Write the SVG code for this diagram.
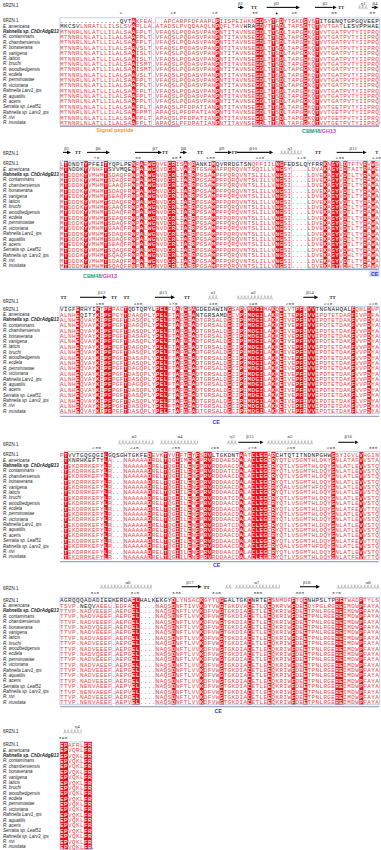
<svg xmlns="http://www.w3.org/2000/svg" width="381" height="850" viewBox="0 0 381 850">
<style>
.k{fill:var(--k,#1c1c1c)}
.ss{font-family:"Liberation Serif","Times New Roman",serif;font-size:5px;fill:#333;text-anchor:middle}
.tt{font-family:"Liberation Serif","Times New Roman",serif;font-size:4.6px;font-weight:bold;fill:#222;text-anchor:middle}
.nu{font-family:"Liberation Mono","Courier New",monospace;font-size:4.3px;fill:#333;text-anchor:middle;letter-spacing:.5px}
.hd{font-family:"Liberation Sans",Arial,sans-serif;font-size:4.5px;fill:#222}
.ar{stroke:#111;stroke-width:1.1;fill:none;marker-end:url(#ah)}
.fr{fill:none;stroke:#8ea3d6;stroke-width:.5}
.col{fill:#e2131b}
.ln{stroke:#8a8fb2;stroke-width:1;fill:none}
.ce{font-family:"Liberation Sans",Arial,sans-serif;font-size:5.2px;font-weight:bold;fill:#2b3cc6;text-anchor:middle}
.lb{font-family:"Liberation Sans",Arial,sans-serif;font-size:5.4px;font-weight:bold;text-anchor:middle}
.hx{fill:url(#hx)}
</style>
<defs>
<marker id="ah" viewBox="0 0 4 4" refX="0" refY="2" markerWidth="4" markerHeight="4" markerUnits="userSpaceOnUse" orient="auto"><path d="M0,0L4,2L0,4z" fill="#111"/></marker>
<pattern id="hx" width="3.3" height="5" patternUnits="userSpaceOnUse"><path d="M0,4.3C1.3,4.3 2.5,0.7 1.7,0.7C0.9,0.7 1.3,4.3 3.3,4.3" fill="none" stroke="#6b6b6b" stroke-width=".45"/></pattern>
<clipPath id="c1"><rect x="131.82" y="-2.8" width="4.04" height="107.6"/><rect x="215.61" y="-2.8" width="4.04" height="107.6"/><rect x="255.51" y="-2.8" width="8.03" height="107.6"/><rect x="271.47" y="-2.8" width="4.04" height="107.6"/><rect x="279.45" y="-2.8" width="4.04" height="107.6"/><rect x="303.39" y="-2.8" width="4.04" height="107.6"/><rect x="315.36" y="-2.8" width="4.04" height="107.6"/></clipPath>
<clipPath id="c2"><rect x="63.99" y="-2.8" width="4.04" height="107.6"/><rect x="83.94" y="-2.8" width="4.04" height="107.6"/><rect x="103.89" y="-2.8" width="4.04" height="107.6"/><rect x="131.82" y="-2.8" width="4.04" height="107.6"/><rect x="139.8" y="-2.8" width="4.04" height="107.6"/><rect x="147.78" y="-2.8" width="8.03" height="107.6"/><rect x="167.73" y="-2.8" width="8.03" height="107.6"/><rect x="183.69" y="-2.8" width="4.04" height="107.6"/><rect x="191.67" y="-2.8" width="4.04" height="107.6"/><rect x="211.62" y="-2.8" width="4.04" height="107.6"/><rect x="275.46" y="-2.8" width="8.03" height="107.6"/><rect x="323.34" y="-2.8" width="4.04" height="107.6"/><rect x="331.32" y="-2.8" width="8.03" height="107.6"/><rect x="343.29" y="-2.8" width="4.04" height="107.6"/><rect x="363.24" y="-2.8" width="4.04" height="107.6"/><rect x="371.22" y="-2.8" width="4.04" height="107.6"/></clipPath>
<clipPath id="c3"><rect x="75.96" y="-2.8" width="4.04" height="107.6"/><rect x="95.91" y="-2.8" width="4.04" height="107.6"/><rect x="103.89" y="-2.8" width="8.03" height="107.6"/><rect x="123.84" y="-2.8" width="4.04" height="107.6"/><rect x="155.76" y="-2.8" width="12.02" height="107.6"/><rect x="175.71" y="-2.8" width="4.04" height="107.6"/><rect x="183.69" y="-2.8" width="4.04" height="107.6"/><rect x="191.67" y="-2.8" width="4.04" height="107.6"/><rect x="227.58" y="-2.8" width="4.04" height="107.6"/><rect x="239.55" y="-2.8" width="4.04" height="107.6"/><rect x="247.53" y="-2.8" width="16.01" height="107.6"/><rect x="271.47" y="-2.8" width="4.04" height="107.6"/><rect x="279.45" y="-2.8" width="4.04" height="107.6"/><rect x="295.41" y="-2.8" width="8.03" height="107.6"/><rect x="307.38" y="-2.8" width="8.03" height="107.6"/><rect x="351.27" y="-2.8" width="4.04" height="107.6"/><rect x="367.23" y="-2.8" width="4.04" height="107.6"/></clipPath>
<clipPath id="c4"><rect x="63.99" y="-2.8" width="4.04" height="107.6"/><rect x="103.89" y="-2.8" width="4.04" height="107.6"/><rect x="147.78" y="-2.8" width="4.04" height="107.6"/><rect x="163.74" y="-2.8" width="4.04" height="107.6"/><rect x="175.71" y="-2.8" width="4.04" height="107.6"/><rect x="187.68" y="-2.8" width="4.04" height="107.6"/><rect x="195.66" y="-2.8" width="4.04" height="107.6"/><rect x="203.64" y="-2.8" width="8.03" height="107.6"/><rect x="239.55" y="-2.8" width="4.04" height="107.6"/><rect x="251.52" y="-2.8" width="16.01" height="107.6"/><rect x="271.47" y="-2.8" width="4.04" height="107.6"/><rect x="331.32" y="-2.8" width="4.04" height="107.6"/><rect x="359.25" y="-2.8" width="4.04" height="107.6"/></clipPath>
<clipPath id="c5"><rect x="131.82" y="-2.8" width="8.03" height="107.6"/><rect x="171.72" y="-2.8" width="4.04" height="107.6"/><rect x="199.65" y="-2.8" width="4.04" height="107.6"/><rect x="219.6" y="-2.8" width="4.04" height="107.6"/><rect x="247.53" y="-2.8" width="4.04" height="107.6"/><rect x="267.48" y="-2.8" width="4.04" height="107.6"/><rect x="291.42" y="-2.8" width="4.04" height="107.6"/><rect x="303.39" y="-2.8" width="4.04" height="107.6"/><rect x="335.31" y="-2.8" width="8.03" height="107.6"/><rect x="359.25" y="-2.8" width="4.04" height="107.6"/></clipPath>
<clipPath id="c6"><rect x="60" y="-2.8" width="8.03" height="107.6"/><rect x="83.94" y="-2.8" width="8.03" height="107.6"/></clipPath>

<g id="nm" font-family="Liberation Sans, Arial, sans-serif" font-size="4.5" font-style="italic" fill="#222">
<text x="3" y="1.7" font-style="normal">6RZN.1</text>
<text x="3" y="7.07">E. americana</text>
<text x="3" y="12.44" font-weight="bold">Rahnella sp. ChDrAdgB13</text>
<text x="3" y="17.81">R. contaminans</text>
<text x="3" y="23.18">R. chambersiensis</text>
<text x="3" y="28.55">R. bonaserana</text>
<text x="3" y="33.92">R. variigena</text>
<text x="3" y="39.29">R. laticis</text>
<text x="3" y="44.66">R. bruchi</text>
<text x="3" y="50.03">R. woodbedgensis</text>
<text x="3" y="55.4">R. ecdela</text>
<text x="3" y="60.77">R. perminowiae</text>
<text x="3" y="66.14">R. victoriana</text>
<text x="3" y="71.51">Rahnella Larv1_ips</text>
<text x="3" y="76.88">R. aquatilis</text>
<text x="3" y="82.25">R. aceris</text>
<text x="3" y="87.62">Serratia sp. Leaf51</text>
<text x="3" y="92.99">Rahnella sp. Larv3_ips</text>
<text x="3" y="98.36">R. rivi</text>
<text x="3" y="103.73">R. inusitata</text>
</g>

<g id="q1" font-family="Liberation Mono, Courier New, monospace" font-size="6" letter-spacing="0.39">
<text x="60" y="2.25"><tspan class="k">...............QVT</tspan>AKFEA...APCARPFDFAAPLPIISPEIHKNGDSYTFDYTSKDGVST<tspan class="k">ITGENQTGPGQVEEP</tspan></text>
<text x="60" y="7.62"><tspan class="k">MKCSV</tspan>LNRATLLILSLSVAPLLA.ATADSLPVQDAAQLNPQFLTAV<tspan class="k">HRA</tspan>GDVTTADLTAPSGTQTVVTGAT<tspan class="k">LESVPPHAE</tspan></text>
<text x="60" y="12.99">MTNNRLNLATLLILALSAAFPLT.VFAQSLPQDASVPANPNTITAVNSEGDLTTSDLTAPGGKQTVVTGATPVTYIIPRQ</text>
<text x="60" y="18.36">MTNNRLNLATLLILALSAAFPLT.VFAQSLPQDASVPANPNTITAVNSEGDLTTSDLTAPGGKQTVVTGATPVTYIIPRQ</text>
<text x="60" y="23.73">MTNNRLNLATLLILALSAAFPLT.VFAQSLPQDASVPANPNTITAVNSEGDLTTSDLTAPGGKQTVVTGATPVTYIIPRQ</text>
<text x="60" y="29.1">MTNNRLNLATLLILALSAAVSLT.VFAQSLPQDASVPANPNTITAVNSEGDLTTSDLTAPGGKQTVVTGATPVTYIIPRQ</text>
<text x="60" y="34.47">MTNNRLNLATLLILALSAAISLT.VFAQSLPQDASVPANPNTITAVNSEGDLTTSDLTAPGGKQTVVTGATPVTYIIPRQ</text>
<text x="60" y="39.84">MTNNRLNLATLLILALSAAISLT.VFAQSLPQDASVPANPNTITAVNSEGDLTTSDLTAPGGKQTVVTGATPVTYIIPRQ</text>
<text x="60" y="45.21">MTNNRLNLATLLILALSAAISMT.VFAQSLPQDASVPANPNTITAVNSEGDLTTSDLTAPGGKQTVVTGATPVTYIIPRQ</text>
<text x="60" y="50.58">MTNNRLNLATLLILALSAAISMT.VFAQSLPQDASVPANPNTITAVNSEGDLTTSDLTAPGGKQTVVTGATPVTYIIPRQ</text>
<text x="60" y="55.95">MTNNRLNLATLLILALSAAVSLT.VFAQSLPQDASVPANPNTITAVNSEGDLTTSDLTAPGGKQTVVTGATPVTYIIPRQ</text>
<text x="60" y="61.32">MTNNRLNLATLLILALSAAFPLT.VFAQSLPQDASVPANPNTITAVNSEGDLTTSDLTAPGGKQTVVTGATPVTYIIPRQ</text>
<text x="60" y="66.69">MTNNRLNLATLLILALSAAFPLT.VFAQSLPQDASVPANPNTITAVNSEGDLTTSDLTAPGGKQTVVTGATPVTYIIPRQ</text>
<text x="60" y="72.06">MTNNRLNLATLLILALSAAFPLT.VFAQSLPQDASVPANPNTITAVNSEGDLTTSDLTAPGGKQTVVTGATPVTYIIPRQ</text>
<text x="60" y="77.43">MTNNRLNLATLLILALSAAFPLT.VFAQSLPQDASVPANPNTITAVNSEGDLTTSDLTAPGGKQTVVTGATPVTYIIPRQ</text>
<text x="60" y="82.8">MTNNRLNLATLLILALSAAFPLT.VFAQSLPQDASVPANPNTITAVNSEGDLTTSDLTAPGGKQTVVTGATPVTYIIPRQ</text>
<text x="60" y="88.17">MTNNRLNLATLLILALSAAFPLT.APAQSLPFDPATIANPNTITAVNSEGDLTTSDLTAPGGKQTVVTGETPVTYIIPRQ</text>
<text x="60" y="93.54">MTNNRLNLATLLILALSAAFPMT.APAQSLPFDPATIANPNTITAVNSEGDLTTSDLTAPGGKQTVVTGETPVTYIIPRQ</text>
<text x="60" y="98.91">MTNNRLNLATLLILALSAAFPLT.APAQSLPFDPATIANPNTITAVNSEGDLTTSDLTAPGGKQTVVTGETPVTYIIPRQ</text>
<text x="60" y="104.28">MTNNRLNLATLLILALSAAFPLT.APAQSLPFDPATIANPNTITAVNSEGDLTTSDLTAPGGKQTVVTGETPVTYIIPRQ</text>
</g>

<g id="q2" font-family="Liberation Mono, Courier New, monospace" font-size="6" letter-spacing="0.39">
<text x="60" y="2.25">LT<tspan class="k">DNDT</tspan>Y<tspan class="k">PFEI</tspan>T<tspan class="k">YQPLPE</tspan>NRAEWGQVECRISAKR<tspan class="k">ANKI</tspan>M<tspan class="k">QVRRDGTSN</tspan>QFFIILNG<tspan class="k">FEDSLQYFRR</tspan>KNGYLDTFTVRVWS</text>
<text x="60" y="7.62">MT<tspan class="k">NDDK</tspan>YVNHFT<tspan class="k">SVVMQE</tspan>NPALWGQVDCRLVAKRTGSAMAFPQRQVNTSQILLVNGSY....LDVAKAGYIDTAITRAWE</text>
<text x="60" y="12.99">MTDDDKYVMHMTSDAQFRNPALWGNVDCRLIAERPGSAMPFPQRQVNTSLILLVNGSI....LDVEKAGYVDTLTYRAWA</text>
<text x="60" y="18.36">MTDDDKYVMHMTSDAQFRNPALWGNVDCRLIAERPGSAMPFPQRQVNTSLILLVNGSI....LDVEKAGYVDTLTYRAWA</text>
<text x="60" y="23.73">MTDDDKYVMHMTGAAQFRNPALWGNVDCRLIAERPGSAMPFPQRQVNTSLILLVNGSI....LDVEKAGYVDTLTYRAWA</text>
<text x="60" y="29.1">MTDDDKYVMHMTSDAQFRNPALWGNVDCRLIAERPGSAMPFPQRQVNTSLILLVNGSI....LDVEKAGYVDTLTYRAWA</text>
<text x="60" y="34.47">MTEDDKYVMHMTSEAQFRNPALWGNVDCRLIAERPGSAMPFPQRQVNTSLILLVNGSI....LDVEKAGYVDTLTYRAWA</text>
<text x="60" y="39.84">MTDDDKYVMHMTSDAQFRNPALWGNVDCRLIAERPGSAMPFPQRQVNTSLILLVNGSI....LDVEKAGYVDTLTYRAWA</text>
<text x="60" y="45.21">MTDDDKYVMHMTGAAQFRNPALWGNVDCRLIAERPGSAMPFPQRQVNTSLILLVNGSI....LDVEKAGYVDTLTYRAWA</text>
<text x="60" y="50.58">MTDDDKYVMHMTSDAQFRNPALWGNVDCRLIAERPGSAMPFPQRQVNTSLILLVNGSI....LDVEKAGYVDTLTYRAWA</text>
<text x="60" y="55.95">MTEDDKYVMHMTSEAQFRNPALWGNVDCRLIAERPGSAMPFPQRQVNTSLILLVNGSI....LDVEKAGYVDTLTYRAWA</text>
<text x="60" y="61.32">MTDDDKYVMHMTSDAQFRNPALWGNVDCRLIAERPGSAMPFPQRQVNTSLILLVNGSI....LDVEKAGYVDTLTYRAWA</text>
<text x="60" y="66.69">MTDDDKYVMHMTGAAQFRNPALWGNVDCRLIAERPGSAMPFPQRQVNTSLILLVNGSI....LDVEKAGYVDTLTYRAWA</text>
<text x="60" y="72.06">MTDDDKYVMHMTSDAQFRNPALWGNVDCRLIAERPGSAMPFPQRQVNTSLILLVNGSI....LDVEKAGYVDTLTYRAWA</text>
<text x="60" y="77.43">MTDDDKYVMHMTSDAQFRNPALWGNVDCRLIAERPGSAMPFPQRQVNTSLILLVNGSI....LDVEKAGYVDTLTYRAWA</text>
<text x="60" y="82.8">MTEDDKYVMHMTSEAQFRNPALWGNVDCRLIAERPGSAMPFPQRQVNTSLILLVNGSI....LDVEKAGYVDTLTYRAWA</text>
<text x="60" y="88.17">MTDDDKYVMHMTSQAQFRNPALWGNVDCRLIAERPGSAMPFPQRQVNTSLILLVNGSI....LDVEKAGYVDHLTYRAWA</text>
<text x="60" y="93.54">MTDDDKYVMHMTSQAQFRNPALWGNVDCRLIAERPGSAMPFPQRQVNTSLILLVNGSI....LDVEKAGYVDHLTYRAWA</text>
<text x="60" y="98.91">MTDDDKYVMHMTSDAQFRNPALWGNVDCRLIAERPGSAMPFPQRQVNTSLILLVNGSI....LDVEKAGYVDTLTYRAWA</text>
<text x="60" y="104.28">MTDDDKYVMHMTSQAQFRNPALWGNVDCRLIAERPGSAMPFPQRQVNTSLILLVNGSI....LDVEKAGYVDHLTYRAWA</text>
</g>

<g id="q3" font-family="Liberation Mono, Courier New, monospace" font-size="6" letter-spacing="0.39">
<text x="60" y="2.25"><tspan class="k">VIGF</tspan>E<tspan class="k">RHYI</tspan>KTPFPACT<tspan class="k">QDTQRYL</tspan>PELFLAYGSA<tspan class="k">GDEDAWIN</tspan>GSAPVMDGIMAKQELVTPFVV<tspan class="k">VTNGNAHQAL</tspan>FQNLDVP</text>
<text x="60" y="7.62">ALNHE<tspan class="k">QITY</tspan>KIPFPGYTDAAQPLYPELFTAFGEA<tspan class="k">NTGRSAMD</tspan>GCVPIMDGILAKREITEPFIVVIPDTETDARFIVPDFA</text>
<text x="60" y="12.99">ALNHEQVAYKIPFPGFTDASQPLYPELFTAFGEADTGRSALDGCIPIMDGILAKKEIVEPFIVVIPDTETDAKFVVPDYA</text>
<text x="60" y="18.36">ALNHEQVAYKIPFPGFTDAGQPLYPELFTAFGEADTGRSALDGCIPIMDGILAKKEIVEPFIVVIPDTETDAKFVVPDYA</text>
<text x="60" y="23.73">ALNHEQVAYKIPFPGFTDASQPLYPELFTAFGEADTGRSALDGCIPIMDGILAKKEIVEPFIVVIPDTETDAKFVVPDYA</text>
<text x="60" y="29.1">ALNHEQVAYKIPFPGFTDASAPLYPELFTAFGEADTGRSALDGCIPIMDGILAKKEIVEPFIVVIPDTETDAKFVVPDYA</text>
<text x="60" y="34.47">ALNHEQVAYKIPFPGFTDASQPLYPELFTAFGEADTGRSALDGCIPIMDGILAKKEIVEPFIVVIPDTETDAKFVVPDYA</text>
<text x="60" y="39.84">ALNHEQVAYKIPFPGFTDAGQPLYPELFTAFGEADTGRSALDGCIPIMDGILAKKEIVEPFIVVIPDTETDAKFVVPDYA</text>
<text x="60" y="45.21">ALNHEQVAYKIPFPGFTDASQPLYPELFTAFGEADTGRSALDGCIPIMDGILAKKEIVEPFIVVIPDTETDAKFVVPDYA</text>
<text x="60" y="50.58">ALNHEQVAYKIPFPGFTDASAPLYPELFTAFGEADTGRSALDGCIPIMDGILAKKEIVEPFIVVIPDTETDAKFVVPDYA</text>
<text x="60" y="55.95">ALNHEQVAYKIPFPGFTDASQPLYPELFTAFGEADTGRSALDGCIPIMDGILAKKEIVEPFIVVIPDTETDAKFVVPDYA</text>
<text x="60" y="61.32">ALNHEQVAYKIPFPGFTDAGQPLYPELFTAFGEADTGRSALDGCIPIMDGILAKKEIVEPFIVVIPDTETDAKFVVPDYA</text>
<text x="60" y="66.69">ALNHEQVAYKIPFPGFTDASQPLYPELFTAFGEADTGRSALDGCIPIMDGILAKKEIVEPFIVVIPDTETDAKFVVPDYA</text>
<text x="60" y="72.06">ALNHEQVAYKIPFPGFTDASQPLYPELFTAFGEADTGRSALDGCIPIMDGILAKKEIVEPFIVVIPDTETDAKFVVPDYA</text>
<text x="60" y="77.43">ALNHEQVAYKIPFPGFTDAGQPLYPELFTAFGEADTGRSALDGCIPIMDGILAKKEIVEPFIVVIPDTETDAKFVVPDYA</text>
<text x="60" y="82.8">ALNHEQVAYKIPFPGFTDASQPLYPELFTAFGEADTGRSALDGCIPIMDGILAKKEIVEPFIVVIPDTETDAKFVVPDYA</text>
<text x="60" y="88.17">ALNHEQVAYKIPFPGFTDASQPLYPELFTAFGEADTGRSALDGCIPIMDGILAKKEIVEPFIVVIPDTETDAKFLVPDYA</text>
<text x="60" y="93.54">ALNHEQVAYKIPFPGFTDASQPLYPELFTAFGEADTGRSALDGCIPIMDGILAKKEIVEPFIVVIPDTETDAKFLVPDYA</text>
<text x="60" y="98.91">ALNHEQVAYKIPFPGFTDASQPLYPELFTAFGEADTGRSALDGCIPIMDGILAKKEIVEPFIVVIPDTETDAKFVVPDYA</text>
<text x="60" y="104.28">ALNHEQVAYKIPFPGFTDASQPLYPELFTAFGEADTGRSALDGCIPIMDGILAKKEIVEPFIVVIPDTETDAKFLVPDYA</text>
</g>

<g id="q4" font-family="Liberation Mono, Courier New, monospace" font-size="6" letter-spacing="0.39">
<text x="60" y="2.25">PT<tspan class="k">VVTGQGQGI</tspan>L<tspan class="k">GQSGHTGKFE</tspan>DEVKTYVIFTEYFSRV<tspan class="k">LTGKDNT</tspan>AATCLEGAR<tspan class="k">CHTQTITNDNPGHW</tspan>GSYIGVLVHGIN</text>
<text x="60" y="7.62">.T<tspan class="k">KNRHKEFTY</tspan>LA...NAAAAADRDLTQGIIMENFPRVRDDAESDALACLEGCRYQTLVSGMTHLDKYGNLATAFVVSTA</text>
<text x="60" y="12.99">.TEKDRRKEFYLR...NAAAAADRELTQGIILENFPRVRDDAACDALACLEGCRYQTLVSGMTHLDQYGNLATLEVVSTQ</text>
<text x="60" y="18.36">.TEKDRRKEFYLR...NAAAAADRELTQGIILENFPRVRDDATCDALACLEGCRYQTLVSGMTHLDQYGNLATLEVVSTQ</text>
<text x="60" y="23.73">.TEKDRRKEFYLR...NAAAAADRELTQGIILENFPRVRDDAACDALACLEGCRYQTLVSGMTHLDQYGNLATLEVVSTQ</text>
<text x="60" y="29.1">.TEKDRRKEFYLR...NAAAAADRELTQGIILENFPRVRDDAACDALACLEGCRYQTLVSGMTHLDQYGNLATLEVVSTQ</text>
<text x="60" y="34.47">.TEKDRRKEFYLR...NAAAAADRELTQGIILENFPRVRDDAACDALACLEGCRYQALVSGMTHFDQYGNLATLEVVSTQ</text>
<text x="60" y="39.84">.TEKDRRKEFYLR...NAAAAADRELTQGIILENFPRVRDDAACDALACLEGCRYQTLVSGMTHLDQYGNLATLEVVSTQ</text>
<text x="60" y="45.21">.TEKDRRKEFYLR...NAAAAADRELTQGIILENFPRVRDDATCDALACLEGCRYQTLVSGMTHLDQYGNLATLEVVSTQ</text>
<text x="60" y="50.58">.TEKDRRKEFYLR...NAAAAADRELTQGIILENFPRVRDDAACDALACLEGCRYQTLVSGMTHLDQYGNLATLEVVSTQ</text>
<text x="60" y="55.95">.TEKDRRKEFYLR...NAAAAADRELTQGIILENFPRVRDDAACDALACLEGCRYQTLVSGMTHLDQYGNLATFEVVTTQ</text>
<text x="60" y="61.32">.TEKDRRKEFYLR...NAAAAADRELTQGIILENFPRVRDDAACDALACLEGCRYQTLVSGMTHLDQYGNLATLEVVSTQ</text>
<text x="60" y="66.69">.TEKDRRKEFYLR...NAAAAADRELTQGIILENFPRVRDDAACDALACLEGCRYQTLVSGMTHLDQYGNLATLEVVSTQ</text>
<text x="60" y="72.06">.TEKDRRKEFYLR...NAAAAADRELTQGIILENFPRVRDDATCDALACLEGCRYQTLVSGMTHLDQYGNLATLEVVSTQ</text>
<text x="60" y="77.43">.TEKDRRKEFYLR...NAAAAADRELTQGIILENFPRVRDDAACDALACLEGCRYQTLVSGMTHLDQYGNLATLEVVSTQ</text>
<text x="60" y="82.8">.TEKDRRKEFYLR...NAAAAADRELTQGIILENFPRVRDDAACDALACLEGCRYQTLVSGMTHLDQYGNLATLEVVSTQ</text>
<text x="60" y="88.17">.TEKDRRKEFYLR...NAAAAADRELTQGIILENFPRVRDDAACDALACLEGCRYQTLVSGMTHLDQYGNLATFEVVTTQ</text>
<text x="60" y="93.54">.TEKDRRKEFYLR...NAAAAADRELTQGIILENFPRVRDDAACDALACLEGCRYQALVSGMTHFDQYGNLATLEVVSTQ</text>
<text x="60" y="98.91">.TEKDRRKEFYLR...NAAAAADRELTQGIILENFPRVRDDAACDALACLEGCRYQTLVSGMTHLDQYGNLATLEVVSTQ</text>
<text x="60" y="104.28">.TEKDRRKEFYLR...NAAAAADRELTQGIILENFPRVRDDAACDALACLEGCRYQTLVSGMTHLDQYGNLATFEVVTTQ</text>
</g>

<g id="q5" font-family="Liberation Mono, Courier New, monospace" font-size="6" letter-spacing="0.39">
<text x="60" y="2.25"><tspan class="k">AGRQQQADADIEEKERDA</tspan>EL<tspan class="k">HALKEKGY</tspan>DLYNSACKGYTQG<tspan class="k">EALTGK</tspan>C<tspan class="k">NRTE</tspan>ESNMDFFTQE<tspan class="k">NHPSLTP</tspan>RETWADPTYLS</text>
<text x="60" y="7.62">TSVP.<tspan class="k">NEQV</tspan>AEEL.EDFAEL....NAQSDNFTIVVKDYVWGTGKDVACETLQEQKRVWFDEEDYPGLRGREIMDWPFAYA</text>
<text x="60" y="12.99">TTVP.NADVEEEF.AEPGEL....NAQSDNFTLVVKDFVWGTGKDIACETLEEQKRIWFDEETPNLRGEREIMDWPFAYA</text>
<text x="60" y="18.36">TTVP.NADVAEEF.AEPGEL....NAQSDNFTLVVKDFVWGTGKDIACETLEEQKRIWFDEETPNLRGEREIMDWPFAYA</text>
<text x="60" y="23.73">TTVP.NADVEEEF.AEPGEL....NAQSDNFTLVVKDFVWGTGKDIACETLEEQKRIWFDEETPNLRGEREIMDWPFAYA</text>
<text x="60" y="29.1">TTVP.NADVQEEF.AEPGEL....NAQSDNFTLVVKDFVWGTGKDIACETLEEQKRIWFDEETPNLRGEREIMDWPFAYA</text>
<text x="60" y="34.47">TTVP.NADVEEEF.AEPGEL....NAQSDNFTLVVKDFVWGTGKDIACETLEEQKRIWFDEETPNLRGEREIMDWPFAYA</text>
<text x="60" y="39.84">TTVP.NADVAEEF.AEPGEL....NAQSDNFTLVVKDFVWGTGKDIACETLEEQKRIWFDEETPNLRGEREIMDWPFAYA</text>
<text x="60" y="45.21">TTVP.NADVEEEF.AEPGEL....NAQSDNFTLVVKDFVWGTGKDIACETLEEQKRIWFDEETPNLRGEREIMDWPFAYA</text>
<text x="60" y="50.58">TTVP.NADVEEEF.AEPGEL....NAQSDNFTLVVKDFVWGTGKDIACETLEEQKRIWFDEETPNLRGEREIMDWPFAYA</text>
<text x="60" y="55.95">TTVP.NADVQEEF.AEPGEL....NAQSDNFTLVVKDFVWGTGKDIACETLEEQKRIWFDEETPNLRGEREIMDWPFAYA</text>
<text x="60" y="61.32">TTVP.NADVEEEF.AEPGEL....NAQSDNFTLVVKDFVWGTGKDIACETLEEQKRIWFDEETPNLRGEREIMDWPFAYA</text>
<text x="60" y="66.69">TTVP.NADVAEEF.AEPGEL....NAQSDNFTLVVKDFVWGTGKDIACETLEEQKRIWFDEETPNLRGEREIMDWPFAYA</text>
<text x="60" y="72.06">TTVP.NADVEEEF.AEPGEL....NAQSDNFTLVVKDFVWGTGKDIACETLEEQKRIWFDEETPNLRGEREIMDWPFAYA</text>
<text x="60" y="77.43">TTVP.NADVEEEF.AEPGEL....NAQSDNFTLVVKDFVWGTGKDIACETLEEQKRIWFDEETPNLRGEREIMDWPFAYA</text>
<text x="60" y="82.8">TTVP.NADVEEEF.AEPGEL....NAQSDNFTLVVKDFVWGTGKDIACETLEEQKRIWFDEETPNLRGEREIMDWPFAYA</text>
<text x="60" y="88.17">TTVP.NENVAEEF.AEPVEL....NAQSDNFTLVVKDFVWGTGKDIACETLEEQKRIWFDEETPNLRGEREIMDWPFAYA</text>
<text x="60" y="93.54">TTVP.NENVAEEF.AEPVEL....NAQSDNFTLVVKDFVWGTGKDIACETLEEQKRIWFDEETPNLRGEREIMDWPFAYA</text>
<text x="60" y="98.91">TTVP.NADVEEEF.AEPGEL....NAQSDNFTLVVKDFVWGTGKDIACETLEEQKRIWFDEETPNLRGEREIMDWPFAYA</text>
<text x="60" y="104.28">TTVP.NENVAEEF.AEPVEL....NAQSDNFTLVVKDFVWGTGKDIACETLEEQKRIWFDEETPNLRGEREIMDWPFAYA</text>
</g>

<g id="q6" font-family="Liberation Mono, Courier New, monospace" font-size="6" letter-spacing="0.39">
<text x="60" y="2.25">EPAFRLFR</text>
<text x="60" y="7.62">EPVQRLFR</text>
<text x="60" y="12.99">EPVQKLFR</text>
<text x="60" y="18.36">EPVQKLFR</text>
<text x="60" y="23.73">EPVQKLFR</text>
<text x="60" y="29.1">EPVQKLFR</text>
<text x="60" y="34.47">EPVQKLFR</text>
<text x="60" y="39.84">EPVQKLFR</text>
<text x="60" y="45.21">EPVQKLFR</text>
<text x="60" y="50.58">EPVQKLFR</text>
<text x="60" y="55.95">EPVQKLFR</text>
<text x="60" y="61.32">EPVQKLFR</text>
<text x="60" y="66.69">EPVQKLFR</text>
<text x="60" y="72.06">EPVQKLFR</text>
<text x="60" y="77.43">EPVQKLFR</text>
<text x="60" y="82.8">EPVQKLFR</text>
<text x="60" y="88.17">EPVQKLFR</text>
<text x="60" y="93.54">EPVQKLFR</text>
<text x="60" y="98.91">EPVQKLFR</text>
<text x="60" y="104.28">EPVQKLFR</text>
</g>
</defs>

<rect width="381" height="850" fill="#fff"/>

<!-- Block 1 -->
<g id="block1">
<text class="hd" x="3" y="7">6RZN.1</text>
<text class="ss" x="240.5" y="4.5">β1</text><path class="ar" d="M238,7.4H240"/>
<text class="tt" x="254" y="9">TT</text>
<text class="ss" x="276.7" y="4.5">β2</text><path class="ar" d="M266.7,7.4H296"/>
<circle cx="276.7" cy="13.4" r=".9" fill="#111"/>
<text class="ss" x="325" y="4.5">β3</text><path class="ar" d="M315,7.4H332.7"/>
<text class="tt" x="341" y="9">TT</text>
<text class="ss" x="363.3" y="4.5">η1</text><rect class="hx" width="10" height="5" transform="translate(358,4.5)"/>
<text class="ss" x="375" y="4.5">β4</text><path class="ar" d="M371.7,7.4H374.3"/>
<g class="nu"><text x="121" y="14.3">1</text><text x="173.3" y="14.3">10</text><text x="215" y="14.3">20</text><text x="255" y="14.3">30</text><text x="294.3" y="14.3">40</text><text x="334.3" y="14.3">50</text><text x="372.7" y="14.3">60</text></g>
<g transform="translate(0,20.7)">
<rect class="col" x="60" y="-2.8" width="320" height="107.6" clip-path="url(#c1)"/>
<use href="#q1" fill="#e8454a"/>
<use href="#q1" fill="#fff" style="--k:#fff" clip-path="url(#c1)"/>
<use href="#nm"/>
<rect class="fr" x="60" y="-2.8" width="91.77" height="107.6"/><rect class="fr" x="155.76" y="-2.8" width="223.44" height="107.6"/>
</g>
<path class="ln" d="M60,126.3H180" stroke="#7d64b4"/>
<path class="ln" d="M252,126.3H379"/>
<text class="lb" x="115" y="132.3" fill="#f19a1c">Signal peptide</text>
<text class="lb" x="319" y="133.3"><tspan fill="#1ea67a">CBM48</tspan><tspan fill="#c93bc4">/GH13</tspan></text>
</g>

<!-- Block 2 -->
<g id="block2">
<text class="hd" x="3" y="154.8">6RZN.1</text>
<text class="ss" x="66.7" y="150">β5</text><path class="ar" d="M63,152.4H67"/>
<text class="tt" x="78" y="154">TT</text>
<text class="ss" x="98.3" y="150">β6</text><path class="ar" d="M87,152.4H106"/>
<text class="ss" x="155" y="150">β7</text><path class="ar" d="M135,152.4H158"/>
<text class="tt" x="165" y="154">TT</text>
<text class="ss" x="183.5" y="150">β8</text><path class="ar" d="M180,152.4H183"/>
<text class="tt" x="200" y="154">TT</text>
<text class="ss" x="221.7" y="150">β9</text><path class="ar" d="M215,152.4H227.7"/>
<text class="tt" x="234.2" y="154">TT</text>
<text class="ss" x="253.3" y="150">β10</text><path class="ar" d="M236.7,152.4H269.3"/>
<text class="ss" x="290" y="150">η2</text><rect class="hx" width="21.7" height="5" transform="translate(280,149.9)"/>
<text class="tt" x="318" y="154">TT</text>
<text class="ss" x="353.3" y="150">β11</text><path class="ar" d="M336.7,152.4H362.7"/>
<text class="tt" x="376.7" y="154">T</text>
<circle cx="180.5" cy="157.3" r=".9" fill="#111"/>
<g class="nu"><text x="96.7" y="158.8">70</text><text x="138.3" y="158.8">80</text><text x="175" y="158.8">90</text><text x="210.7" y="158.8">100</text><text x="260" y="158.8">110</text><text x="301.7" y="158.8">120</text><text x="340" y="158.8">130</text><text x="376.7" y="158.8">140</text></g>
<g transform="translate(0,163.7)">
<rect class="col" x="60" y="-2.8" width="320" height="107.6" clip-path="url(#c2)"/>
<use href="#q2" fill="#e8454a"/>
<use href="#q2" fill="#fff" style="--k:#fff" clip-path="url(#c2)"/>
<use href="#nm"/>
<rect class="fr" x="60" y="-2.8" width="231.42" height="107.6"/><rect class="fr" x="307.38" y="-2.8" width="71.82" height="107.6"/>
</g>
<path class="ln" d="M60,269.6H379"/>
<text class="lb" x="100" y="278.2"><tspan fill="#1ea67a">CBM48</tspan><tspan fill="#c93bc4">/GH13</tspan></text>
<rect x="369.5" y="270.8" width="10" height="5.8" fill="#c5cdf2"/>
<text class="ce" x="374.5" y="275.6">CE</text>
</g>

<!-- Block 3 -->
<g id="block3">
<text class="hd" x="3" y="303">6RZN.1</text>
<text class="tt" x="63.5" y="299">TT</text>
<text class="ss" x="101.7" y="294">β12</text><path class="ar" d="M80,297.3H102.7"/>
<text class="tt" x="114" y="299">TT</text>
<text class="tt" x="126.5" y="299">TT</text>
<text class="ss" x="163.3" y="294">β13</text><path class="ar" d="M155,297.3H171"/>
<text class="tt" x="187" y="299">TT</text>
<text class="ss" x="213.3" y="294">α1</text><rect class="hx" width="10" height="5" transform="translate(208,294.8)"/>
<text class="ss" x="253.3" y="294">α2</text><rect class="hx" width="36.6" height="5" transform="translate(236.7,294.8)"/>
<text class="ss" x="310" y="294">β14</text><path class="ar" d="M303.3,297.3H314.3"/>
<text class="tt" x="332.5" y="299">TT</text>
<g class="nu"><text x="100" y="304.8">150</text><text x="138.3" y="304.8">160</text><text x="173.3" y="304.8">170</text><text x="213.3" y="304.8">180</text><text x="253.3" y="304.8">190</text><text x="290" y="304.8">200</text><text x="328.3" y="304.8">210</text><text x="373.3" y="304.8">220</text></g>
<g transform="translate(0,309)">
<rect class="col" x="60" y="-2.8" width="320" height="107.6" clip-path="url(#c3)"/>
<use href="#q3" fill="#e8454a"/>
<use href="#q3" fill="#fff" style="--k:#fff" clip-path="url(#c3)"/>
<use href="#nm"/>
<rect class="fr" x="60" y="-2.8" width="319.2" height="107.6"/>
</g>
<path class="ln" d="M60,416.3H379"/>
<text class="ce" x="216" y="424">CE</text>
</g>

<!-- Block 4 -->
<g id="block4">
<text class="hd" x="3" y="445.8">6RZN.1</text>
<text class="ss" x="134" y="438">α3</text><rect class="hx" width="36" height="5" transform="translate(118,439.8)"/>
<text class="ss" x="180" y="438">α4</text><rect class="hx" width="38" height="5" transform="translate(160,439.8)"/>
<text class="ss" x="232.3" y="438">η3</text><rect class="hx" width="10" height="5" transform="translate(227,439.8)"/>
<text class="ss" x="250" y="438">β15</text><path class="ar" d="M238.3,442.3H259.5"/>
<text class="ss" x="290" y="438">α5</text><rect class="hx" width="46" height="5" transform="translate(267,439.8)"/>
<text class="ss" x="348.3" y="438">β16</text><path class="ar" d="M338.3,442.3H354.5"/>
<g class="nu"><text x="96.7" y="449.1">230</text><text x="134.5" y="449.1">240</text><text x="176" y="449.1">250</text><text x="215" y="449.1">260</text><text x="252.5" y="449.1">270</text><text x="291" y="449.1">280</text><text x="331" y="449.1">290</text><text x="373.3" y="449.1">300</text></g>
<g transform="translate(0,454.6)">
<rect class="col" x="60" y="-2.8" width="320" height="107.6" clip-path="url(#c4)"/>
<use href="#q4" fill="#e8454a"/>
<use href="#q4" fill="#fff" style="--k:#fff" clip-path="url(#c4)"/>
<use href="#nm"/>
<rect class="fr" x="63.99" y="-2.8" width="47.88" height="107.6"/><rect class="fr" x="123.84" y="-2.8" width="255.36" height="107.6"/>
</g>
<path class="ln" d="M60,561.7H379"/>
<text class="ce" x="216.5" y="567.2">CE</text>
</g>

<!-- Block 5 -->
<g id="block5">
<text class="hd" x="3" y="589.5">6RZN.1</text>
<text class="ss" x="128" y="583.5">α6</text><rect class="hx" width="52" height="5" transform="translate(100,584.2)"/>
<text class="ss" x="190" y="583.5">β17</text><path class="ar" d="M181.7,586.7H197.7"/>
<text class="tt" x="206.5" y="588.5">TT</text>
<text class="ss" x="256.7" y="583.5">α7</text><rect class="hx" width="6.6" height="5" transform="translate(225,584.2)"/><rect class="hx" width="45" height="5" transform="translate(235,584.2)"/>
<text class="ss" x="306.7" y="583.5">β18</text><path class="ar" d="M300,586.7H316"/>
<text class="ss" x="368.3" y="583.5">α8</text><rect class="hx" width="43" height="5" transform="translate(336.7,584.2)"/>
<g class="nu"><text x="95" y="594.1">310</text><text x="135" y="594.1">320</text><text x="176.7" y="594.1">330</text><text x="216.7" y="594.1">340</text><text x="258" y="594.1">350</text><text x="300" y="594.1">360</text><text x="336.7" y="594.1">370</text></g>
<g transform="translate(0,600)">
<rect class="col" x="60" y="-2.8" width="320" height="107.6" clip-path="url(#c5)"/>
<use href="#q5" fill="#e8454a"/>
<use href="#q5" fill="#fff" style="--k:#fff" clip-path="url(#c5)"/>
<use href="#nm"/>
<rect class="fr" x="60" y="-2.8" width="51.87" height="107.6"/><rect class="fr" x="115.86" y="-2.8" width="23.94" height="107.6"/><rect class="fr" x="155.76" y="-2.8" width="223.44" height="107.6"/>
</g>
<path class="ln" d="M60,706.7H379"/>
<text class="ce" x="218" y="712.5">CE</text>
</g>

<!-- Block 6 -->
<g id="block6">
<text class="hd" x="3" y="732.5">6RZN.1</text>
<text class="ss" x="77.3" y="727.8">η4</text><rect class="hx" width="18.4" height="5" transform="translate(63.3,728.8)"/>
<g class="nu"><text x="63.3" y="738.5">390</text></g>
<g transform="translate(0,744.7)">
<rect class="col" x="60" y="-2.8" width="40" height="107.6" clip-path="url(#c6)"/>
<use href="#q6" fill="#e8454a"/>
<use href="#q6" fill="#fff" style="--k:#fff" clip-path="url(#c6)"/>
<use href="#nm"/>
<rect class="fr" x="60" y="-2.8" width="31.92" height="107.6"/>
</g>
<path class="ln" d="M88,848.5H93" stroke="#888"/>
</g>
</svg>
